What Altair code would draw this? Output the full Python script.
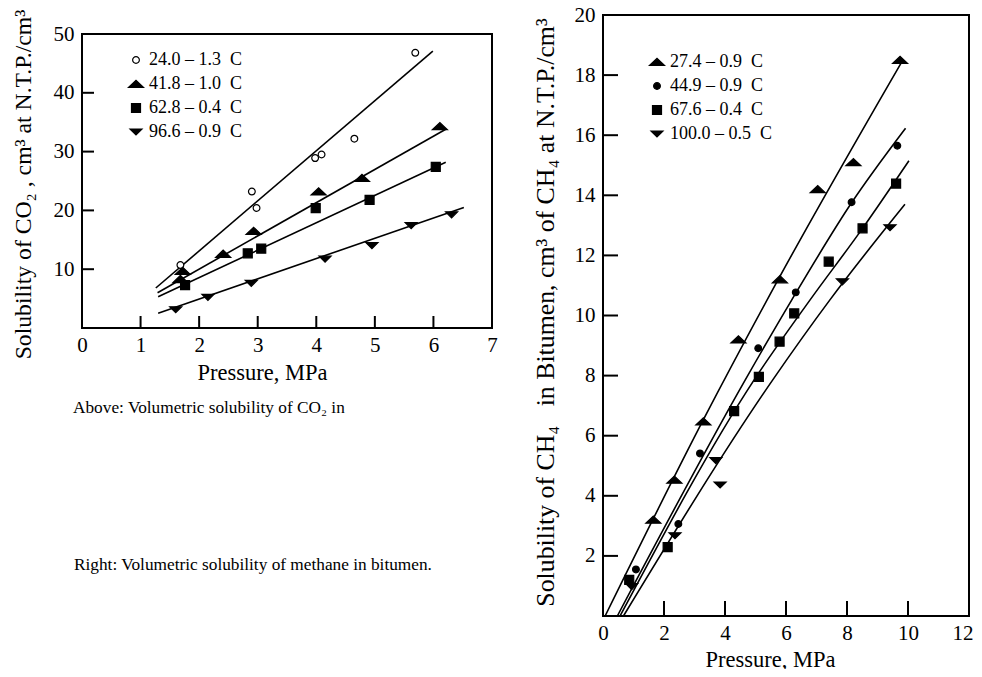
import altair as alt
import pandas as pd

FONT = "Liberation Serif"
W, H = 966, 661

# ---------------- Left chart: CO2 ----------------
LX_DOMAIN = [0, 7]
LY_DOMAIN = [0, 50]
LX_RANGE = [74, 484]
LY_RANGE = [320, 26]
LX_LABELS = [0, 1, 2, 3, 4, 5, 6, 7]
LY_LABELS = [10, 20, 30, 40, 50]
LX_TICKS = [1, 2, 3, 4, 5, 6]
LY_TICKS = [10, 20, 30, 40]

LEFT_SERIES = ["24.0 – 1.3\u00a0\u00a0C", "41.8 – 1.0\u00a0\u00a0C",
               "62.8 – 0.4\u00a0\u00a0C", "96.6 – 0.9\u00a0\u00a0C"]

L1_P = [1.68, 2.90, 2.98, 3.98, 4.09, 4.65, 5.69]
L1_S = [10.7, 23.2, 20.4, 28.9, 29.5, 32.2, 46.8]
L2_P = [1.68, 1.72, 2.41, 2.93, 4.04, 4.78, 6.11]
L2_S = [8.3, 9.7, 12.6, 16.5, 23.2, 25.5, 34.3]
L3_P = [1.76, 2.83, 3.06, 3.99, 4.91, 6.04]
L3_S = [7.3, 12.7, 13.5, 20.4, 21.8, 27.4]
L4_P = [1.60, 2.15, 2.89, 4.15, 4.95, 5.62, 6.31]
L4_S = [3.1, 5.2, 7.6, 11.7, 14.0, 17.4, 19.25]

L1_FIT_P = [1.26, 5.99]
L1_FIT_S = [6.8, 47.1]
L2_FIT_P = [1.29, 6.21]
L2_FIT_S = [6.0, 33.8]
L3_FIT_P = [1.30, 6.21]
L3_FIT_S = [5.3, 28.2]
L4_FIT_P = [1.30, 6.52]
L4_FIT_S = [2.5, 20.5]

# ---------------- Right chart: CH4 ----------------
RX_DOMAIN = [0, 12]
RY_DOMAIN = [0, 20]
RX_RANGE = [595, 961]
RY_RANGE = [608, 7]
RX_LABELS = [0, 2, 4, 6, 8, 10, 12]
RY_LABELS = [2, 4, 6, 8, 10, 12, 14, 16, 18, 20]
RX_TICKS = [2, 4, 6, 8, 10]
RY_TICKS = [2, 4, 6, 8, 10, 12, 14, 16, 18]

RIGHT_SERIES = ["27.4 – 0.9\u00a0\u00a0C", "44.9 – 0.9\u00a0\u00a0C",
                "67.6 – 0.4\u00a0\u00a0C", "100.0 – 0.5\u00a0\u00a0C"]

R1_P = [1.65, 2.34, 3.29, 4.44, 5.80, 7.04, 8.21, 9.74]
R1_S = [3.2, 4.53, 6.47, 9.2, 11.2, 14.2, 15.1, 18.5]
R2_P = [1.08, 2.47, 3.18, 5.09, 6.32, 8.15, 9.65]
R2_S = [1.55, 3.06, 5.41, 8.91, 10.77, 13.77, 15.65]
R3_P = [0.86, 2.12, 4.30, 5.11, 5.79, 6.27, 7.40, 8.51, 9.61]
R3_S = [1.2, 2.29, 6.82, 7.96, 9.13, 10.07, 11.79, 12.9, 14.39]
R4_P = [0.94, 2.36, 3.70, 3.84, 7.85, 9.41]
R4_S = [0.98, 2.67, 5.17, 4.36, 11.12, 12.92]

R1_FIT_P = [0.07, 3.3, 5.8, 9.83]
R1_FIT_S = [0.0, 6.55, 11.3, 18.5]
R2_FIT_P = [0.47, 4.66, 6.19, 8.15, 9.92]
R2_FIT_S = [0.0, 7.85, 10.52, 13.75, 16.23]
R3_FIT_P = [0.56, 4.95, 6.79, 8.51, 10.03]
R3_FIT_S = [0.0, 7.85, 10.52, 12.9, 15.15]
R4_FIT_P = [0.67, 5.56, 7.44, 9.90]
R4_FIT_S = [0.0, 7.85, 10.52, 13.70]

LEFT_X_TITLE = "Pressure, MPa"
LEFT_Y_TITLE = "Solubility of CO₂ , cm³ at N.T.P./cm³"
RIGHT_X_TITLE = "Pressure, MPa"
RIGHT_Y_TITLE = "Solubility of CH₄\u00a0\u00a0 in Bitumen, cm³ of CH₄ at N.T.P./cm³"
NOTE_ABOVE = "Above: Volumetric solubility of CO₂ in"
NOTE_RIGHT = "Right: Volumetric solubility of methane in bitumen."

# marker shapes (unit-square svg paths)
TRI_UP = "M-1,0.45L1,0.45L0,-0.5Z"
TRI_DOWN = "M-0.8,-0.4L0.8,-0.4L0,0.4Z"
SQUARE = "M-0.6,-0.6H0.6V0.6H-0.6Z"
CIRCLE = "M0.45,0A0.45,0.45,0,1,1,-0.45,0A0.45,0.45,0,1,1,0.45,0Z"
LEFT_SHAPES = [CIRCLE, TRI_UP, SQUARE, TRI_DOWN]
LEFT_FILLS = ["white", "black", "black", "black"]
RIGHT_SHAPES = [TRI_UP, CIRCLE, SQUARE, TRI_DOWN]
RIGHT_FILLS = ["black", "black", "black", "black"]
STROKES = ["black", "black", "black", "black"]


def series_frame(names, ps, ss):
    rows = []
    for name, p, s in zip(names, ps, ss):
        rows.append(pd.DataFrame({"P": p, "S": s, "series": name}))
    return pd.concat(rows, ignore_index=True)


left_pts = series_frame(LEFT_SERIES, [L1_P, L2_P, L3_P, L4_P], [L1_S, L2_S, L3_S, L4_S])
left_fit = series_frame(LEFT_SERIES, [L1_FIT_P, L2_FIT_P, L3_FIT_P, L4_FIT_P],
                        [L1_FIT_S, L2_FIT_S, L3_FIT_S, L4_FIT_S])
right_pts = series_frame(RIGHT_SERIES, [R1_P, R2_P, R3_P, R4_P], [R1_S, R2_S, R3_S, R4_S])
right_fit = series_frame(RIGHT_SERIES, [R1_FIT_P, R2_FIT_P, R3_FIT_P, R4_FIT_P],
                         [R1_FIT_S, R2_FIT_S, R3_FIT_S, R4_FIT_S])

# keep the last x label of the right panel inside the page
EDGE_TEST = "datum.value === 12"


def panel(xdom, ydom, xrange_, yrange_, xlabels, ylabels, xticks, yticks,
          xtitle, ytitle, xtitle_x, xtitle_y, ytitle_pad, ytitle_size, ytitle_y,
          series, shapes, fills, pts, fit, interp, legend_x, legend_y, tick_len):
    xs = alt.Scale(domain=xdom, range=xrange_, nice=False, zero=False)
    ys = alt.Scale(domain=ydom, range=yrange_, nice=False, zero=False)
    frame_df = pd.DataFrame({"x0": [xdom[0]], "x1": [xdom[1]], "y0": [ydom[0]], "y1": [ydom[1]]})
    xaxis = alt.Axis(values=xlabels, orient="bottom", offset=-(H - yrange_[0]), domain=False,
                     ticks=False, tickSize=0, grid=False, labelFont=FONT, labelFontSize=21,
                     labelColor="black", labelPadding=6, labelFlush=False, labelOverlap=False,
                     labelAlign={"condition": {"test": EDGE_TEST, "value": "right"}, "value": "center"},
                     labelOffset={"condition": {"test": EDGE_TEST, "value": 4}, "value": 0},
                     format="d", title=xtitle, titleFont=FONT, titleFontSize=22.5,
                     titleFontWeight="normal", titleColor="black", titleX=xtitle_x,
                     titleY=xtitle_y, titleBaseline="alphabetic")
    yaxis = alt.Axis(values=ylabels, orient="left", offset=-xrange_[0], domain=False,
                     ticks=False, tickSize=0, grid=False, labelFont=FONT, labelFontSize=21,
                     labelColor="black", labelPadding=8, labelFlush=False, labelOverlap=False,
                     format="d", title=ytitle, titleFont=FONT, titleFontSize=ytitle_size,
                     titleFontWeight="normal", titleColor="black", titlePadding=ytitle_pad,
                     titleY=ytitle_y)
    frame = alt.Chart(frame_df).mark_rect(fill="transparent", stroke="black", strokeWidth=2).encode(
        x=alt.X("x0:Q", scale=xs, axis=xaxis), x2="x1",
        y=alt.Y("y0:Q", scale=ys, axis=yaxis), y2="y1")
    ytk = alt.Chart(pd.DataFrame({"v": yticks})).mark_rule(color="black", strokeWidth=2).encode(
        y=alt.Y("v:Q", scale=ys, axis=yaxis),
        x=alt.value(xrange_[0]), x2=alt.value(xrange_[0] + tick_len))
    xtk = alt.Chart(pd.DataFrame({"v": xticks})).mark_rule(color="black", strokeWidth=2).encode(
        x=alt.X("v:Q", scale=xs, axis=xaxis),
        y=alt.value(yrange_[0]), y2=alt.value(yrange_[0] - tick_len))
    lines = alt.Chart(fit).mark_line(color="black", strokeWidth=1.6, interpolate=interp).encode(
        x=alt.X("P:Q", scale=xs, axis=xaxis),
        y=alt.Y("S:Q", scale=ys, axis=yaxis),
        detail="series:N")
    leg = dict(orient="none", legendX=legend_x, legendY=legend_y, title=None,
               labelFont=FONT, labelFontSize=18, labelColor="black", symbolSize=225,
               symbolStrokeWidth=1.2, symbolOpacity=1,
               rowPadding=6, padding=0, labelOffset=4)
    points = alt.Chart(pts).mark_point(filled=True, opacity=1, strokeWidth=1.2, size=225).encode(
        x=alt.X("P:Q", scale=xs, axis=xaxis),
        y=alt.Y("S:Q", scale=ys, axis=yaxis),
        shape=alt.Shape("series:N", scale=alt.Scale(domain=series, range=shapes),
                        legend=alt.Legend(**leg)),
        fill=alt.Fill("series:N", scale=alt.Scale(domain=series, range=fills),
                      legend=alt.Legend(**leg)),
        stroke=alt.Stroke("series:N", scale=alt.Scale(domain=series, range=STROKES),
                          legend=alt.Legend(**leg)))
    return alt.layer(frame, ytk, xtk, lines, points)


left = panel(LX_DOMAIN, LY_DOMAIN, LX_RANGE, LY_RANGE, LX_LABELS, LY_LABELS, LX_TICKS, LY_TICKS,
             LEFT_X_TITLE, LEFT_Y_TITLE, 254, 51, 18, 23.7, 176,
             LEFT_SERIES, LEFT_SHAPES, LEFT_FILLS, left_pts, left_fit, "linear", 119, 43, 12)
right = panel(RX_DOMAIN, RY_DOMAIN, RX_RANGE, RY_RANGE, RX_LABELS, RY_LABELS, RX_TICKS, RY_TICKS,
              RIGHT_X_TITLE, RIGHT_Y_TITLE, 762, 50, 16, 25.8, 304,
              RIGHT_SERIES, RIGHT_SHAPES, RIGHT_FILLS, right_pts, right_fit, "monotone", 640, 45, 15)

note1 = alt.Chart(pd.DataFrame({"t": [NOTE_ABOVE]})).mark_text(
    align="left", baseline="middle", font=FONT, fontSize=17.3, color="black").encode(
    text="t:N", x=alt.value(65), y=alt.value(400))
note2 = alt.Chart(pd.DataFrame({"t": [NOTE_RIGHT]})).mark_text(
    align="left", baseline="middle", font=FONT, fontSize=17.3, color="black").encode(
    text="t:N", x=alt.value(66), y=alt.value(557))

chart = alt.layer(left, right, note1, note2).resolve_scale(
    x="independent", y="independent", shape="independent", fill="independent",
    stroke="independent"
).properties(
    width=W, height=H, padding=0, autosize=alt.AutoSizeParams(type="none"),
    background="white"
).configure_view(strokeWidth=0)

chart.save("out.html", embed_options={"renderer": "svg", "actions": False})
